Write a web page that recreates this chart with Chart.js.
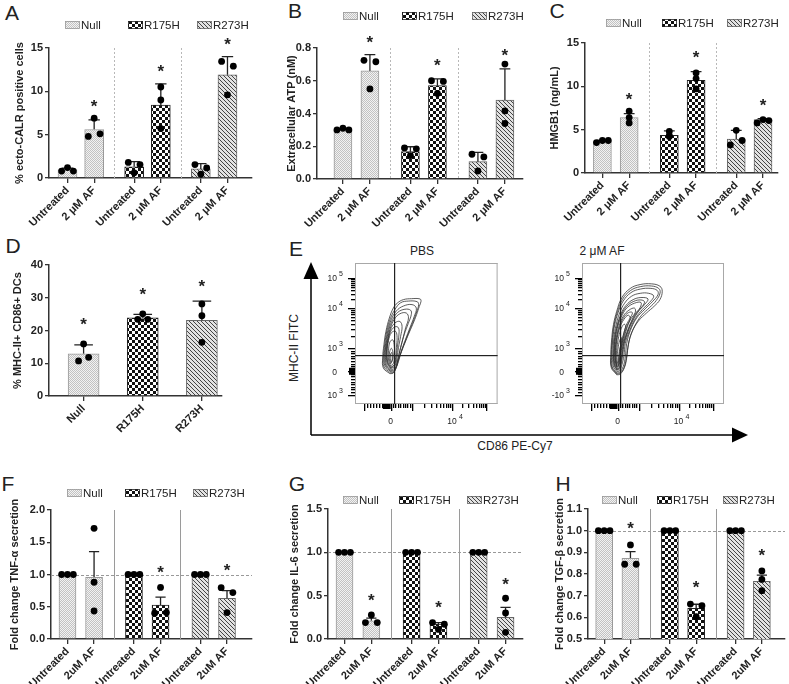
<!DOCTYPE html>
<html>
<head>
<meta charset="utf-8">
<script src="https://cdn.jsdelivr.net/npm/chart.js@4.4.1/dist/chart.umd.min.js"></script>
<style>
  body { margin: 0; background: #fff; }
  #fig { position: relative; width: 789px; height: 684px; overflow: hidden; font-family: "Liberation Sans", Arial, sans-serif; color: #222; }
  #fig canvas { position: absolute; }
  .letter { position: absolute; font-size: 21px; line-height: 21px; transform: translate(-50%, -50%); }
  .txt { position: absolute; white-space: nowrap; font-size: 12px; transform: translate(-50%, -50%); }
</style>
</head>
<body>
<div id="fig">
  <div class="letter" style="left:12px;top:12px">A</div>
  <div class="letter" style="left:295px;top:10px">B</div>
  <div class="letter" style="left:557px;top:10px">C</div>
  <div class="letter" style="left:13px;top:245px">D</div>
  <div class="letter" style="left:296px;top:248px">E</div>
  <div class="letter" style="left:8px;top:483px">F</div>
  <div class="letter" style="left:297px;top:483px">G</div>
  <div class="letter" style="left:563px;top:483px">H</div>
  <div class="txt" style="left:422px;top:251px">PBS</div>
  <div class="txt" style="left:602px;top:251px">2 μM AF</div>
  <div class="txt" style="left:294px;top:348px;transform:translate(-50%,-50%) rotate(-90deg)">MHC-II FITC</div>
  <div class="txt" style="left:515px;top:446px">CD86 PE-Cy7</div>
  <svg width="789" height="684" style="position:absolute;left:0;top:0">
    <path d="M311 435 V276 M311 435 H734" stroke="#000" stroke-width="1.5" fill="none"/>
    <polygon points="311,262 303.5,279 318.5,279" fill="#000"/>
    <polygon points="748,435 732,427.5 732,442.5" fill="#000"/>
  </svg>
</div>
<script>
const FONT = '"Liberation Sans", Arial, sans-serif';

// ---- data ----
const groupNames = ['Null', 'R175H', 'R273H'];
const treatLabelsTop = ['Untreated', '2 μM AF', 'Untreated', '2 μM AF', 'Untreated', '2 μM AF'];
const treatLabelsBottom = ['Untreated', '2uM AF', 'Untreated', '2uM AF', 'Untreated', '2uM AF'];
const xPos = [1, 2, 3.5, 4.5, 6, 7];
const groupOf = [0, 0, 1, 1, 2, 2];

// A - ecto-CALR
const calrMean = [0.93, 5.6, 1.3, 8.4, 1.05, 11.9];
const calrErr = [0.2, 1.1, 0.6, 2.45, 0.6, 2.1];
const calrPts = [[0.8, 1.2, 0.8], [4.8, 6.9, 5.1], [1.8, 0.6, 1.55], [10.5, 9.0, 5.7], [1.55, 0.43, 1.16], [13.45, 9.6, 12.9]];
const calrSpread = [1, 1, 1, 0, 1, 1];
const calrStars = [null, 8.7, null, 12.7, null, 15.9];

// B - extracellular ATP
const atpMean = [0.30, 0.66, 0.167, 0.57, 0.106, 0.482];
const atpErr = [0.006, 0.10, 0.03, 0.042, 0.057, 0.19];
const atpPts = [[0.30, 0.31, 0.30], [0.725, 0.55, 0.716], [0.19, 0.143, 0.184], [0.60, 0.522, 0.596], [0.151, 0.049, 0.135], [0.702, 0.416, 0.339]];
const atpSpread = [1, 1, 1, 1, 1, 0];
const atpStars = [null, 0.857, null, 0.718, null, 0.776];

// C - HMGB1
const hmgbMean = [3.71, 6.4, 4.35, 10.7, 3.91, 6.17];
const hmgbErr = [0.05, 0.45, 0.5, 1.0, 1.0, 0.1];
const hmgbPts = [[3.51, 3.75, 3.75], [7.14, 6.4, 5.78], [4.8, 4.2, 4.3], [11.55, 10.9, 9.7], [3.24, 4.92, 3.75], [5.78, 6.17, 6.05]];
const hmgbSpread = [1, 0, 0, 0, 1, 1];
const hmgbStars = [null, 8.9, null, 13.8, null, 8.2];

// D - MHC-II+ CD86+ DCs
const dcMean = [12.9, 23.9, 23.1];
const dcErr = [2.7, 1.0, 5.9];
const dcPts = [[10.7, 15.9, 11.8], [23.4, 25.1, 23.4], [28.1, 24.5, 16.4]];
const dcSpread = [1, 1, 0];
const dcStars = [23.2, 32.1, 34.6];

// F - TNF-a
const tnfMean = [1, 0.956, 1, 0.527, 1, 0.63];
const tnfErr = [0, 0.398, 0, 0.123, 0, 0.12];
const tnfPts = [[1, 1, 1], [1.716, 0.88, 0.434], [1, 1, 1], [0.40, 0.80, 0.41], [1, 1, 1], [0.796, 0.41, 0.72]];
const tnfSpread = [1, 0, 1, 1, 1, 1];
const tnfStars = [null, null, null, 1.1, null, 1.13];

// G - IL-6
const il6Mean = [1, 0.21, 1, 0.173, 1, 0.25];
const il6Err = [0, 0.03, 0, 0.017, 0, 0.115];
const il6Pts = [[1, 1, 1], [0.19, 0.277, 0.19], [1, 1, 1], [0.19, 0.11, 0.17], [1, 1, 1], [0.47, 0.30, 0.077]];
const il6Spread = [1, 1, 1, 1, 1, 0];
const il6Stars = [null, 0.49, null, 0.41, null, 0.68];

// H - TGF-b
const tgfMean = [1, 0.872, 1, 0.6415, 1, 0.766];
const tgfErr = [0, 0.031, 0, 0.019, 0, 0.029];
const tgfPts = [[1, 1, 1], [0.845, 0.934, 0.845], [1, 1, 1], [0.661, 0.603, 0.654], [1, 1, 1], [0.814, 0.775, 0.723]];
const tgfSpread = [1, 1, 1, 1, 1, 0];
const tgfStars = [null, 1.03, null, 0.757, null, 0.903];

// E - flow contours (display units 0-100 inside each plot box)
const pbsContours = [
  [[24.5,21.5],[19.9,25.5],[19.4,32.6],[20.3,42.1],[21.7,51.5],[24.1,61],[26.9,68.1],[29.7,71.6],[33.9,74],[39.7,74.7],[45.6,74.5],[46.3,72.8],[45.1,69.3],[43.2,63.4],[40.4,56.3],[37.4,49.2],[35,43.3],[32.7,37.4],[30.4,31.4],[28.7,25.5],[26.9,22]],
  [[24.8,22.2],[20.4,26.2],[19.9,33.3],[20.9,42.6],[22.3,51.8],[24.8,60.5],[28,67],[32,71.8],[37.5,73],[43.5,72.6],[44.6,70.6],[43.5,66],[41,59],[38,51.5],[35.3,44.6],[32.8,38.2],[30.6,31.6],[28.8,25.8],[27,22.4]],
  [[25,23],[21,27],[20.5,34],[21.5,43],[23,52],[25.5,60],[29,66],[34,69.5],[40,70.5],[43,68],[41.5,62],[38.5,54],[35.5,46],[33,39],[31,32],[29,26],[27,23]],
  [[25,23.5],[21.5,27.5],[21,34.5],[22,43.5],[23.7,52.5],[26.5,60],[30,65],[35,67.2],[39,66.5],[39.5,63.5],[37.3,57],[34.6,49.5],[32.4,41.5],[30.6,34],[29.2,28],[27.7,24.3]],
  [[25,24],[22,28],[21.5,35],[22.5,44],[24.5,53],[27.5,60],[31.5,64],[36,64.5],[37.5,61],[35.5,54],[33.5,46],[31.5,38],[30,31],[28.5,26]],
  [[25,25],[22.5,29],[22,36],[23,45],[25,53],[28,57.5],[31.5,58.5],[33,55],[32,48],[30.5,40],[29.5,33],[28,27]],
  [[25,25.5],[22.8,29.5],[22.3,36.5],[23.2,45],[25.2,51.8],[28.2,54.8],[30.5,54],[30.8,49],[29.8,41],[29,34],[27.8,28]],
  [[25,26],[23,30],[22.5,37],[23.5,45],[25.5,50.5],[28.5,51.5],[29.5,47],[29,40],[28.5,33],[27.5,28]],
  [[25,27],[23.5,31],[23.5,38],[24.5,44],[26.5,45.5],[27.5,41],[27.5,35],[27,29]],
  [[25,28.5],[24,32],[24.3,37],[25.5,39.5],[26.5,37],[26.5,32]],
  [[25.2,29.5],[24.7,32.5],[25,35.5],[25.8,36.5],[26.1,33.5],[25.9,30.3]]
];
const afContours = [
  [[24.5,20.7],[20.6,25.9],[20.3,35.3],[21,47.1],[22.2,56.5],[24.5,65.9],[28,75.3],[33.9,81.9],[40.9,84.7],[49.1,85.2],[54.9,83.5],[56.5,80],[54.9,74.1],[50.9,69.4],[45.6,64.7],[39.7,58.8],[35,50.6],[32.7,42.4],[31.5,32.9],[29.9,25.9],[26.9,21.2]],
  [[24.5,21.3],[20.9,26.2],[20.6,35.4],[21.4,47],[22.6,56.3],[25,65.5],[28.5,74.2],[34.2,80.5],[41,83.2],[48.8,83.7],[54,82],[55,78.8],[52.2,73.3],[47.7,68.5],[42,63],[37.2,55.5],[33.8,47],[32,38],[30.8,30],[28.8,24],[26.7,21.8]],
  [[24.5,22],[21.3,26.5],[21,35.5],[21.8,47],[23,56],[25.5,65],[29,73],[34.5,79],[41,81.5],[48.5,82],[53,80.5],[53.5,77.5],[49.5,72.5],[44.5,67.5],[38.5,61],[34,52],[31.5,43],[30.5,33.5],[29,26.5],[26.5,22.5]],
  [[24.5,23],[22,27],[21.7,36],[22.5,47],[24,56],[26.5,64.5],[30,71.5],[35,76.5],[41,78.5],[47,78.5],[50.5,76.5],[47.5,72],[42.5,67],[37.5,60.5],[33.5,52],[30.5,43],[29.5,34],[28,27.5],[26.5,23.5]],
  [[24.5,24],[22.5,28],[22.3,36.5],[23,47],[24.8,56],[27.5,64],[31,70],[36,74],[41.5,75.5],[46.5,74.5],[44,70.5],[40,66],[36,59.5],[32.5,51.5],[29.8,43],[28.6,34.5],[27.5,28],[26.3,24.5]],
  [[24.5,24.5],[22.7,28.5],[22.5,36.8],[23.3,47],[25.1,56],[28,63.8],[31.5,69.3],[36.5,72.8],[41.5,73.8],[44,72.5],[42.5,69.3],[38.8,65],[35.2,58.8],[32,51],[29.4,42.8],[28.3,34.8],[27.2,28.5],[26.1,25]],
  [[24.5,25],[23,29],[22.8,37],[23.6,47],[25.5,56],[28.5,63.5],[32,68.5],[37,71.5],[41.5,72],[41,68.5],[37.5,64],[34.5,58],[31.5,50.5],[29,42.5],[28,35],[27,29],[26,25.5]],
  [[24.5,26],[23.5,30],[23.3,37.5],[24.2,47],[26.2,55.5],[29.2,62.5],[33,66.5],[37,68],[37.5,65],[34.5,60.5],[32,55],[30,48],[28.2,41],[27.4,35],[26.5,29.5],[25.8,26.5]],
  [[24.5,26.5],[23.6,30.5],[23.5,37.8],[24.5,47],[26.5,55],[29.3,61.2],[32.7,64.8],[35.5,64.8],[33.6,60.5],[31,55.5],[29.2,48.6],[27.9,42],[27.1,35.8],[26.3,30],[25.6,27]],
  [[24.5,27],[23.8,31],[23.8,38],[24.8,47],[26.8,54.5],[29.5,60],[32.5,63],[34,61],[32,56],[30,50],[28.2,43],[27,37],[26.3,31],[25.5,27.5]],
  [[24.5,27.8],[24.1,31.5],[24.4,38],[25.5,46],[27.2,52.5],[29.5,56.5],[30.8,55.5],[29.5,50.5],[27.8,44],[26.6,37.5],[26,31.5],[25.2,28.3]],
  [[24.8,29],[24.7,33],[25.3,39],[26.5,45],[27.8,47],[27.3,42.5],[26.2,37],[25.7,32],[25.3,29.3]]
];
const flowYMajor = [6.6, 23.2, 39.7, 68.1, 89.4];
const flowXMajor = [6, 25, 40, 68, 92];

// ---- patterns ----
function makePattern(kind) {
  const c = document.createElement('canvas');
  const g = c.getContext('2d');
  if (kind === 0) {
    c.width = c.height = 2;
    g.fillStyle = '#f2f2f2'; g.fillRect(0, 0, 2, 2);
    g.fillStyle = '#c2c2c2'; g.fillRect(0, 0, 1, 1); g.fillRect(1, 1, 1, 1);
  } else if (kind === 1) {
    c.width = c.height = 6;
    g.fillStyle = '#fff'; g.fillRect(0, 0, 6, 6);
    g.fillStyle = '#111'; g.fillRect(0, 0, 3, 3); g.fillRect(3, 3, 3, 3);
  } else {
    c.width = c.height = 4;
    g.fillStyle = '#e2e2e2'; g.fillRect(0, 0, 4, 4);
    g.fillStyle = '#444';
    for (let i = 0; i < 4; i++) g.fillRect(i, i, 1, 1);
  }
  return g.createPattern(c, 'repeat');
}
const fills = [makePattern(0), makePattern(1), makePattern(2)];
const edges = ['#9a9a9a', '#222', '#666'];

// ---- panels ----
const panels = [
  { canvas: [0, 0, 262, 232], plot: [49, 48, 252, 178], xr: [0.306, 7.92], y: [0, 15, 5, 0], xs: xPos, groups: groupOf, labels: treatLabelsTop,
    means: calrMean, errs: calrErr, pts: calrPts, spread: calrSpread, stars: calrStars, barW: 19, jit: 0.22,
    title: '% ecto-CALR positive cells', titleX: 20, sep: 'dot', legY: 25, legX: [65, 128, 197] },
  { canvas: [262, 0, 530, 232], plot: [317, 48, 523, 179], xr: [0.04, 7.67], y: [0, 0.8, 0.2, 1], xs: xPos, groups: groupOf, labels: treatLabelsTop,
    means: atpMean, errs: atpErr, pts: atpPts, spread: atpSpread, stars: atpStars, barW: 18, jit: 0.22,
    title: 'Extracellular ATP (nM)', titleX: 292, sep: 'dot', legY: 16, legX: [343, 402, 472] },
  { canvas: [530, 0, 789, 232], plot: [585, 43, 778, 173], xr: [0.35, 7.56], y: [0, 15, 5, 0], xs: xPos, groups: groupOf, labels: treatLabelsTop,
    means: hmgbMean, errs: hmgbErr, pts: hmgbPts, spread: hmgbSpread, stars: hmgbStars, barW: 18, jit: 0.22,
    title: 'HMGB1 (ng/mL)', titleX: 555, sep: 'dot', legY: 23, legX: [606, 662, 727] },
  { canvas: [0, 232, 232, 455], plot: [49, 265, 222, 396], xr: [0.415, 3.34], y: [0, 40, 10, 0], xs: [1, 2, 3], groups: [0, 1, 2], labels: groupNames,
    means: dcMean, errs: dcErr, pts: dcPts, spread: dcSpread, stars: dcStars, barW: 31, jit: 0.085,
    title: '% MHC-II+ CD86+ DCs', titleX: 18, sep: null, legY: null },
  { canvas: [0, 455, 262, 684], plot: [51, 510, 252, 639], xr: [0.38, 7.94], y: [0, 2, 0.5, 1], xs: xPos, groups: groupOf, labels: treatLabelsBottom,
    means: tnfMean, errs: tnfErr, pts: tnfPts, spread: tnfSpread, stars: tnfStars, barW: 17, jit: 0.22,
    title: 'Fold change TNF-α secretion', titleX: 15, sep: 'solid', ref: 1, legY: 493, legX: [67, 125, 193] },
  { canvas: [262, 455, 530, 684], plot: [328, 509, 523, 639], xr: [0.385, 7.65], y: [0, 1.5, 0.5, 1], xs: xPos, groups: groupOf, labels: treatLabelsBottom,
    means: il6Mean, errs: il6Err, pts: il6Pts, spread: il6Spread, stars: il6Stars, barW: 17, jit: 0.22,
    title: 'Fold change IL-6 secretion', titleX: 295, sep: 'solid', ref: 1, legY: 500, legX: [343, 399, 467] },
  { canvas: [530, 455, 789, 684], plot: [588, 509, 789, 639], xr: [0.385, 7.88], y: [0.5, 1.1, 0.1, 1], xs: xPos, groups: groupOf, labels: treatLabelsBottom,
    means: tgfMean, errs: tgfErr, pts: tgfPts, spread: tgfSpread, stars: tgfStars, barW: 17, jit: 0.22,
    title: 'Fold change TGF-β secretion', titleX: 560, sep: 'solid', ref: 1, legY: 500, legX: [602, 657, 723] }
];

function makeDecor(p) {
  const [cl, ct] = p.canvas;
  return {
    id: 'decor',
    beforeDatasetsDraw(chart) {
      const { ctx, chartArea: a, scales: { x, y } } = chart;
      ctx.save();
      if (p.sep) {
        ctx.strokeStyle = p.sep === 'dot' ? '#b8b8b8' : '#9a9a9a';
        ctx.lineWidth = 1;
        ctx.setLineDash(p.sep === 'dot' ? [2, 2] : []);
        [2.75, 5.25].forEach(v => {
          const px = Math.round(x.getPixelForValue(v)) + 0.5;
          ctx.beginPath(); ctx.moveTo(px, a.top); ctx.lineTo(px, a.bottom); ctx.stroke();
        });
      }
      if (p.ref != null) {
        ctx.strokeStyle = '#999'; ctx.setLineDash([3, 2]); ctx.lineWidth = 1;
        const py = Math.round(y.getPixelForValue(p.ref)) + 0.5;
        ctx.beginPath(); ctx.moveTo(a.left, py); ctx.lineTo(a.right, py); ctx.stroke();
      }
      ctx.restore();
    },
    afterDatasetDraw(chart, args) {
      if (args.index !== 2) return;
      const { ctx, scales: { x, y } } = chart;
      ctx.save();
      ctx.strokeStyle = '#222'; ctx.lineWidth = 1.3;
      p.means.forEach((m, i) => {
        if (!p.errs[i]) return;
        const px = x.getPixelForValue(p.xs[i]);
        const y0 = y.getPixelForValue(m), y1 = y.getPixelForValue(m + p.errs[i]);
        const hw = p.barW * 0.3;
        ctx.beginPath();
        ctx.moveTo(px, y0); ctx.lineTo(px, y1);
        ctx.moveTo(px - hw, y1); ctx.lineTo(px + hw, y1);
        ctx.stroke();
      });
      ctx.restore();
    },
    afterDraw(chart) {
      const { ctx, chartArea: a, scales: { x, y } } = chart;
      ctx.save();
      // stars
      ctx.fillStyle = '#222';
      ctx.font = 'bold 17px ' + FONT;
      ctx.textAlign = 'center'; ctx.textBaseline = 'alphabetic';
      p.stars.forEach((s, i) => {
        if (s == null) return;
        ctx.fillText('*', x.getPixelForValue(p.xs[i]), y.getPixelForValue(s) + 9.5);
      });
      // y title
      ctx.save();
      ctx.translate(p.titleX - cl, (a.top + a.bottom) / 2);
      ctx.rotate(-Math.PI / 2);
      ctx.font = 'bold 11px ' + FONT;
      ctx.textBaseline = 'middle';
      ctx.fillText(p.title, 0, 0);
      ctx.restore();
      // legend
      if (p.legY != null) {
        ctx.font = '11.5px ' + FONT;
        ctx.textAlign = 'left'; ctx.textBaseline = 'middle';
        p.legX.forEach((lx, g) => {
          const sx = lx - cl, sy = p.legY - ct;
          ctx.fillStyle = fills[g];
          ctx.fillRect(sx, sy - 4, 15, 8);
          ctx.strokeStyle = edges[g]; ctx.lineWidth = 0.8;
          ctx.strokeRect(sx + 0.5, sy - 3.5, 14, 7);
          ctx.fillStyle = '#222';
          ctx.fillText(groupNames[g], sx + 16, sy + 0.5);
        });
      }
      ctx.restore();
    }
  };
}

function barPanel(p) {
  const [cl, ct, cr, cb] = p.canvas;
  const [pl, pt, pr, pb] = p.plot;
  const cv = document.createElement('canvas');
  cv.width = cr - cl; cv.height = cb - ct;
  cv.style.left = cl + 'px'; cv.style.top = ct + 'px';
  document.getElementById('fig').appendChild(cv);

  const datasets = [0, 1, 2].map(g => ({
    type: 'bar',
    label: groupNames[g],
    data: p.means.map((m, i) => ({ x: p.xs[i], y: m })).filter((d, i) => p.groups[i] === g),
    backgroundColor: fills[g],
    borderColor: edges[g],
    borderWidth: 1,
    barThickness: p.barW,
    grouped: false,
    order: 2
  }));
  const jit = [-p.jit, 0, p.jit];
  const dots = [];
  p.pts.forEach((arr, i) => arr.forEach((v, k) => dots.push({ x: p.xs[i] + (p.spread[i] ? jit[k] : 0), y: v })));
  datasets.push({ type: 'scatter', data: dots, pointRadius: 3.4, pointBackgroundColor: '#000', pointBorderWidth: 0, order: 1 });

  const tickFont = { family: FONT, size: 11, weight: 'bold' };
  new Chart(cv, {
    type: 'bar',
    data: { datasets },
    options: {
      responsive: false,
      animation: false,
      layout: { padding: { top: pt - ct, right: cr - pr, left: 0, bottom: 0 } },
      plugins: { legend: { display: false }, tooltip: { enabled: false } },
      scales: {
        x: {
          type: 'linear', min: p.xr[0], max: p.xr[1], offset: false,
          afterBuildTicks: s => { s.ticks = p.xs.map(v => ({ value: v })); },
          afterFit: s => { s.height = cb - pb; },
          grid: { offset: false, drawOnChartArea: false, drawTicks: true, tickLength: 5, color: '#333', lineWidth: 1.3 },
          border: { color: '#333', width: 1.5 },
          ticks: { autoSkip: false, maxRotation: 45, minRotation: 45, padding: 1, color: '#222', font: tickFont,
                   callback: (v, i) => p.labels[i] }
        },
        y: {
          min: p.y[0], max: p.y[1],
          afterFit: s => { s.width = pl - cl; },
          grid: { drawOnChartArea: false, tickLength: 4, color: '#333', lineWidth: 1.3 },
          border: { color: '#333', width: 1.5 },
          ticks: { stepSize: p.y[2], color: '#222', padding: 2, font: tickFont, callback: v => v.toFixed(p.y[3]) }
        }
      }
    },
    plugins: [makeDecor(p)]
  });
}

// ---- flow plots ----
const flows = [
  { canvas: [320, 255, 505, 430], box: [355, 263, 497.6, 404], contours: pbsContours, gate: [27.5, 34.6], lowLabel: '10' },
  { canvas: [547, 255, 732, 430], box: [582, 263, 724, 404], contours: afContours, gate: [27, 34.8], lowLabel: '-10' }
];

function makeFlowDecor(f) {
  return {
    id: 'flowDecor',
    afterDraw(chart) {
      const { ctx, chartArea: a, scales: { x, y } } = chart;
      ctx.save();
      ctx.fillStyle = '#a8a8a8';
      ctx.fillRect(a.left, a.top, a.width, 1);
      ctx.fillRect(a.right - 1, a.top, 1, a.height);
      ctx.fillRect(a.left, a.top, 1, a.height);
      ctx.fillRect(a.left, a.bottom - 1, a.width, 1);
      ctx.fillStyle = '#222';
      const gx = Math.round(x.getPixelForValue(f.gate[0])), gy = Math.round(y.getPixelForValue(f.gate[1]));
      ctx.fillRect(gx, a.top, 1.2, a.height);
      ctx.fillRect(a.left, gy, a.width, 1.2);

      // axis ticks (biexponential-style), drawn as thin rects
      ctx.fillStyle = '#000';
      const ty = (v, len) => { const py = Math.round(y.getPixelForValue(v)); ctx.fillRect(a.left - len, py, len, 1.3); };
      const tx = (v, len) => { const px = Math.round(x.getPixelForValue(v)); ctx.fillRect(px, a.bottom, 1.3, len); };
      [[flowYMajor, ty], [flowXMajor, tx]].forEach(([maj, fn]) => {
        maj.forEach(v => fn(v, 7));
        for (let s = 0; s < 4; s++) {
          const lo = maj[s], hi = maj[s + 1];
          for (let k = 1; k <= 8; k++) {
            const v = s < 2 ? lo + (hi - lo) * k / 9 : lo + (hi - lo) * Math.log10(k + 1);
            fn(v, 4);
          }
        }
      });
      const y0 = y.getPixelForValue(flowYMajor[1]);
      ctx.fillRect(a.left - 6, y0 - 3.5, 6, 7);
      const xa = x.getPixelForValue(19.5), xb = x.getPixelForValue(flowXMajor[1]);
      ctx.fillRect(xa, a.bottom, xb - xa, 5);

      // tick labels
      ctx.fillStyle = '#222';
      const big = '8.5px ' + FONT, small = '7px ' + FONT;
      const yLabels = [[f.lowLabel, '3'], ['0', null], ['10', '3'], ['10', '4'], ['10', '5']];
      yLabels.forEach(([b, e], i) => {
        const py = y.getPixelForValue(flowYMajor[i]);
        ctx.font = big; ctx.textAlign = 'right'; ctx.textBaseline = 'middle';
        ctx.fillText(b, a.left - 18, py + 1);
        if (e) { ctx.font = small; ctx.textAlign = 'left'; ctx.fillText(e, a.left - 16, py - 4); }
      });
      ctx.font = big; ctx.textAlign = 'center'; ctx.textBaseline = 'middle';
      ctx.fillText('0', x.getPixelForValue(flowXMajor[1]), a.bottom + 18);
      const p4 = x.getPixelForValue(flowXMajor[3]);
      ctx.fillText('10', p4, a.bottom + 18);
      ctx.font = small; ctx.textAlign = 'left';
      ctx.fillText('4', p4 + 7, a.bottom + 13);
      ctx.restore();
    }
  };
}

function flowPanel(f) {
  const [cl, ct, cr, cb] = f.canvas;
  const [bl, bt, br, bb] = f.box;
  const cv = document.createElement('canvas');
  cv.width = cr - cl; cv.height = cb - ct;
  cv.style.left = cl + 'px'; cv.style.top = ct + 'px';
  document.getElementById('fig').appendChild(cv);
  const datasets = f.contours.map(c => ({
    data: c.concat([c[0]]).map(q => ({ x: q[0], y: q[1] })),
    showLine: true, pointRadius: 0, borderColor: '#333', borderWidth: 0.8, tension: 0.4, fill: false
  }));
  new Chart(cv, {
    type: 'scatter',
    data: { datasets },
    options: {
      responsive: false, animation: false,
      layout: { padding: { left: bl - cl, top: bt - ct, right: cr - br, bottom: cb - bb } },
      plugins: { legend: { display: false }, tooltip: { enabled: false } },
      scales: {
        x: { type: 'linear', min: 0, max: 100, display: false },
        y: { type: 'linear', min: 0, max: 100, display: false }
      }
    },
    plugins: [makeFlowDecor(f)]
  });
}

panels.forEach(barPanel);
flows.forEach(flowPanel);
</script>
</body>
</html>
